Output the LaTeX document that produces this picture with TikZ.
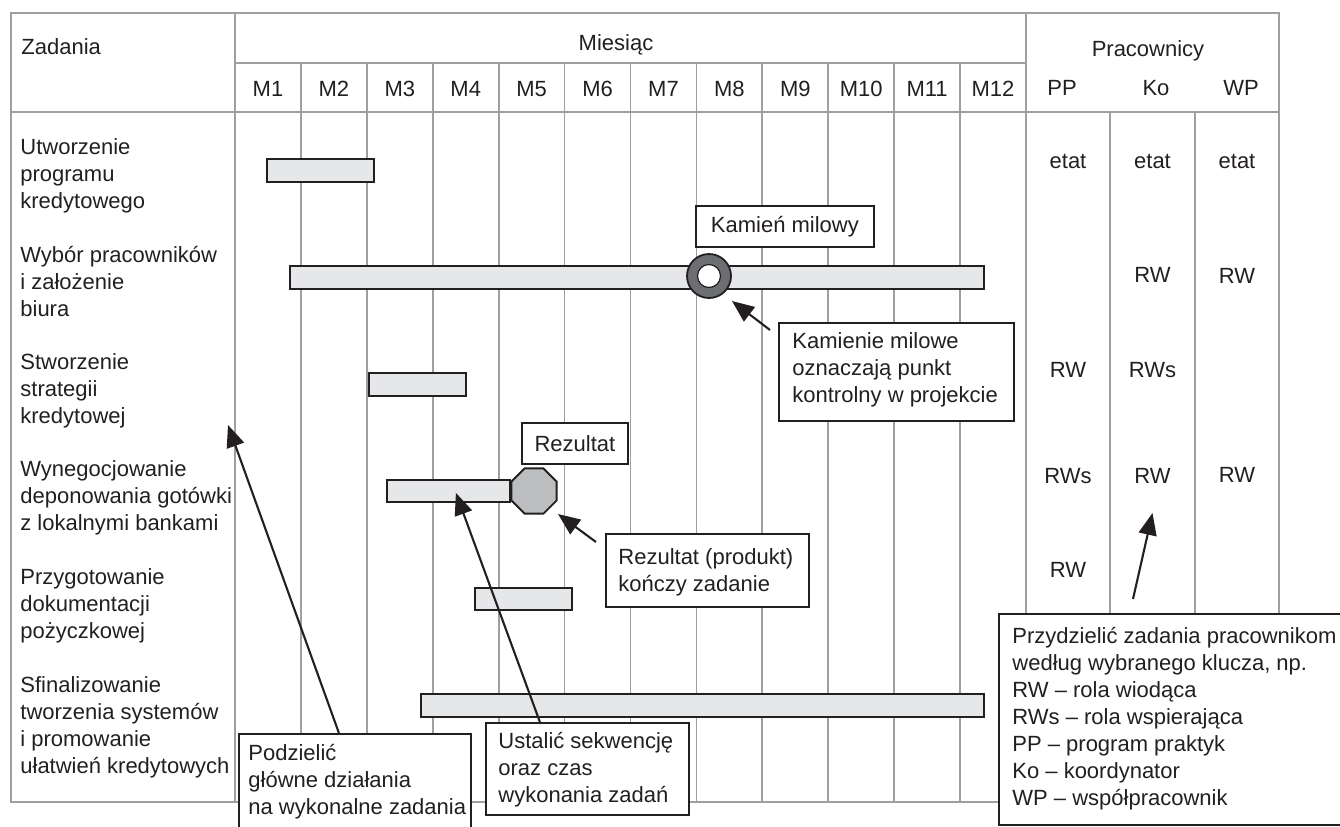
\documentclass[tikz,border=0pt]{standalone}
\usepackage{fontspec}
\setmainfont{Liberation Sans}
\usetikzlibrary{arrows.meta,shapes.geometric}
\definecolor{gridgray}{HTML}{9D9FA2}
\definecolor{barfill}{HTML}{E6E7E8}
\definecolor{ink}{HTML}{231F20}
\definecolor{ringgray}{HTML}{6D6E71}
\definecolor{octfill}{HTML}{BCBEC0}
% left-aligned block of lines whose baseline is the first line
\newcommand\stacklines[1]{\begin{tabular}[t]{@{}l@{}}#1\end{tabular}}

\begin{document}
\begin{tikzpicture}[x=0.5pt,y=-0.5pt,
  font=\fontsize{11}{13.5}\selectfont, text=ink,
  grid/.style={draw=gridgray, line width=0.9pt},
  bar/.style={draw=ink, fill=barfill, line width=0.9pt, inner sep=0, anchor=north west},
  note/.style={draw=ink, fill=white, line width=0.9pt, inner sep=0, anchor=north west},
  txt/.style={inner sep=0, anchor=base west},
  ctr/.style={inner sep=0, anchor=base},
  arr/.style={draw=ink, line width=1.05pt, -{Triangle[length=11pt,width=9pt]}}]

\path[use as bounding box] (0,0) rectangle (1340,826);
\clip (0,0) rectangle (1340,826);

% table frame and grid
\draw[grid] (11,13) rectangle (1279,802);
\draw[grid] (235,13) -- (235,802);
\draw[grid] (1026,13) -- (1026,802);
\draw[grid] (235,63) -- (1026,63);
\draw[grid] (11,112) -- (1279,112);
\foreach \i in {1,...,11}
  \draw[grid] ({235+\i*65.917},63) -- ({235+\i*65.917},802);
\draw[grid] (1110,112) -- (1110,802);
\draw[grid] (1195,112) -- (1195,802);

% header
\node[txt] (hz) at (21,54) {Zadania};
\node[ctr] (hm) at (616,50) {Miesiąc};
\node[ctr] (hp) at (1148,56) {Pracownicy};
\foreach \i in {1,...,12}
  \node[ctr] (m\i) at ({235+(\i-0.5)*65.917},96) {M\i};
\node[ctr] (pp) at (1062,95) {PP};
\node[ctr] (ko) at (1156,95) {Ko};
\node[ctr] (wp) at (1241,95) {WP};

% staff assignment cells
\node[ctr] (c11) at (1068,168) {etat};
\node[ctr] (c12) at (1152.5,168) {etat};
\node[ctr] (c13) at (1237,168) {etat};
\node[ctr] (c22) at (1152.5,282) {RW};
\node[ctr] (c23) at (1237,283) {RW};
\node[ctr] (c31) at (1068,377) {RW};
\node[ctr] (c32) at (1152.5,377) {RWs};
\node[ctr] (c41) at (1068,483) {RWs};
\node[ctr] (c42) at (1152.5,483) {RW};
\node[ctr] (c43) at (1237,482) {RW};
\node[ctr] (c51) at (1068,577) {RW};

% task names
\node[txt] (t1) at (20,154) {\stacklines{Utworzenie\\programu\\kredytowego}};
\node[txt] (t2) at (20,262) {\stacklines{Wybór pracowników\\i założenie\\biura}};
\node[txt] (t3) at (20,369) {\stacklines{Stworzenie\\strategii\\kredytowej}};
\node[txt] (t4) at (20,476) {\stacklines{Wynegocjowanie\\deponowania gotówki\\z lokalnymi bankami}};
\node[txt] (t5) at (20,584) {\stacklines{Przygotowanie\\dokumentacji\\pożyczkowej}};
\node[txt] (t6) at (20,692) {\stacklines{Sfinalizowanie\\tworzenia systemów\\i promowanie\\ułatwień kredytowych}};

% task bars
\node[bar, minimum width=53.5pt, minimum height=11.5pt] (b1) at (266,158) {};
\node[bar, minimum width=347pt,  minimum height=11.5pt] (b2) at (289,265) {};
\node[bar, minimum width=48.5pt, minimum height=11.5pt] (b3) at (368,372) {};
\node[bar, minimum width=61.5pt, minimum height=11pt]   (b4) at (386,479) {};
\node[bar, minimum width=48.5pt, minimum height=11pt]   (b5) at (474,587) {};
\node[bar, minimum width=281.5pt, minimum height=11.5pt] (b6) at (420,693) {};

% milestone and deliverable
\node[circle, draw=ink, fill=ringgray, line width=0.9pt, minimum size=22pt, inner sep=0] (mile) at (709,276) {};
\node[circle, draw=ink, fill=white, line width=0.6pt, minimum size=11.5pt, inner sep=0] (mileeye) at (mile) {};
\node[regular polygon, regular polygon sides=8, minimum size=24.5pt, draw=ink, fill=octfill,
      line width=0.9pt, inner sep=0] (res) at (534,491) {};

% labels
\node[note, minimum width=89pt, minimum height=20.5pt] (kl) at (695,205) {Kamień milowy};
\node[note, minimum width=53pt, minimum height=20.5pt] (rl) at (521,422) {Rezultat};

% callouts
\node[note, minimum width=117.5pt, minimum height=49pt] (kn) at (778,322) {};
\node[txt] (knt) at (792,348) {\stacklines{Kamienie milowe\\oznaczają punkt\\kontrolny w projekcie}};

\node[note, minimum width=101.5pt, minimum height=36.5pt] (rn) at (605,533) {};
\node[txt] (rnt) at (618,564) {\stacklines{Rezultat (produkt)\\kończy zadanie}};

\node[note, minimum width=116pt, minimum height=60pt] (dn) at (238,733) {};
\node[txt] (dnt) at (248,760) {\stacklines{Podzielić\\główne działania\\na wykonalne zadania}};

\node[note, minimum width=101.5pt, minimum height=46pt] (sn) at (485,722) {};
\node[txt] (snt) at (498,748) {\stacklines{Ustalić sekwencję\\oraz czas\\wykonania zadań}};

\node[note, minimum width=190pt, minimum height=105.5pt] (an) at (998,613) {};
\node[txt] (ant) at (1012,643) {\stacklines{Przydzielić zadania pracownikom\\według wybranego klucza, np.\\RW – rola wiodąca\\RWs – rola wspierająca\\PP – program praktyk\\Ko – koordynator\\WP – współpracownik}};

% pointers
\coordinate (taskcol) at (228,425);
\draw[arr] ([shift={(-8,8)}]kn.north west) -- ([shift={(23,25)}]mile.center);
\draw[arr] ([shift={(-9,9)}]rn.north west) -- ([shift={(24,23)}]res.center);
\draw[arr] ([shift={(-16,0)}]dn.north) -- (taskcol);
\draw[arr] ([shift={(-47.5,0)}]sn.north) -- ([shift={(7.5,2)}]b4.center);
\draw[arr] ([shift={(135,-14)}]an.north west) -- ([shift={(0,30)}]c42.base);
\end{tikzpicture}
\end{document}
